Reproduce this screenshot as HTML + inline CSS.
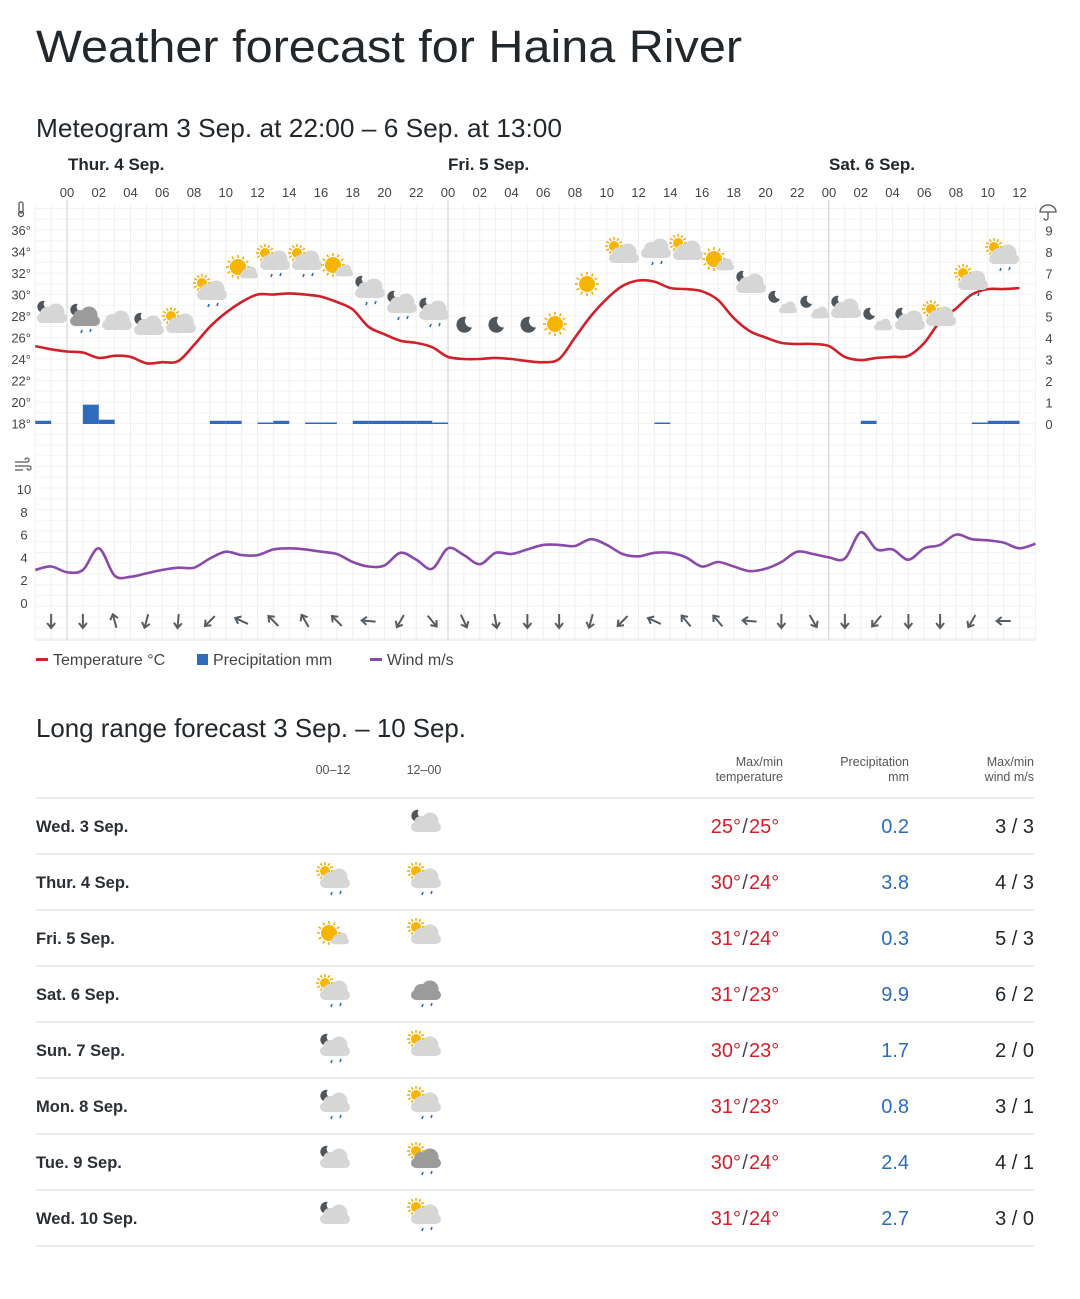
<!DOCTYPE html>
<html><head><meta charset="utf-8"><style>
html,body{margin:0;padding:0;background:#fff;width:1080px;height:1299px;overflow:hidden}
svg{display:block;font-family:"Liberation Sans",sans-serif}
</style></head><body>
<svg id="s" width="1080" height="1299" viewBox="0 0 1080 1299" xmlns="http://www.w3.org/2000/svg">
<text x="36" y="62" font-size="45" fill="#21272b" textLength="706" lengthAdjust="spacingAndGlyphs">Weather forecast for Haina River</text>
<text x="36" y="137" font-size="26" fill="#21272b" textLength="526" lengthAdjust="spacingAndGlyphs">Meteogram 3 Sep. at 22:00 – 6 Sep. at 13:00</text>
<text x="36" y="737" font-size="26" fill="#21272b" textLength="430" lengthAdjust="spacingAndGlyphs">Long range forecast 3 Sep. – 10 Sep.</text>
<g id="g"></g>
</svg>
<script>
const G=document.getElementById('g');
let h='';
const X=i=>35.25+15.875*i;
const TY=t=>230+(36-t)*10.75;
const WY=w=>603-w*11.4;
const PY=p=>424-p*21.5;
for(let i=0;i<=63;i++){const x=X(i);h+=`<line x1="${x}" y1="205" x2="${x}" y2="640" stroke="#efefef" stroke-width="1"/>`;}
for(let y=208.5;y<=640;y+=10.75){h+=`<line x1="35" y1="${y}" x2="1035" y2="${y}" stroke="#f3f3f3" stroke-width="1"/>`;}
[67,448,828.75].forEach(x=>h+=`<line x1="${x}" y1="200" x2="${x}" y2="640" stroke="#cfcfcf" stroke-width="1"/>`);
h+=`<line x1="35" y1="640" x2="1035" y2="640" stroke="#e4e4e4"/>`;
h+=`<text x="68" y="170" font-size="17" font-weight="bold" fill="#21272b">Thur. 4 Sep.</text>`;
h+=`<text x="448" y="170" font-size="17" font-weight="bold" fill="#21272b">Fri. 5 Sep.</text>`;
h+=`<text x="829" y="170" font-size="17" font-weight="bold" fill="#21272b">Sat. 6 Sep.</text>`;
for(let i=2;i<=63;i+=2){const hr=(i-2)%24;h+=`<text x="${X(i)}" y="197" font-size="13" fill="#444" text-anchor="middle">${String(hr).padStart(2,'0')}</text>`;}
for(let t=36;t>=18;t-=2)h+=`<text x="31" y="${TY(t)+5}" font-size="13" fill="#444" text-anchor="end">${t}°</text>`;
for(let p=9;p>=0;p--)h+=`<text x="1049" y="${PY(p)+5}" font-size="13" fill="#444" text-anchor="middle">${p}</text>`;
for(let w=10;w>=0;w-=2)h+=`<text x="24" y="${WY(w)+5}" font-size="13" fill="#444" text-anchor="middle">${w}</text>`;
h+=`<g stroke="#555" fill="none" stroke-width="1.3"><rect x="19" y="202" width="4" height="11" rx="2"/><circle cx="21" cy="214" r="2.5"/></g>`;
h+=`<path d="M1040 212 a8 7 0 0 1 16 0 z M1048 212 v6 a2 2 0 0 1 -4 0" stroke="#555" fill="none" stroke-width="1.3"/>`;
h+=`<g stroke="#555" fill="none" stroke-width="1.2"><path d="M15 462h12a2 2 0 1 0 -2-2M15 466h14a2 2 0 1 1 -2 2M15 470h8"/></g>`;
const P={0:.15,3:.9,4:.2,11:.15,12:.15,14:.07,15:.15,17:.07,18:.07,20:.15,21:.15,22:.15,23:.15,24:.15,25:.07,39:.07,52:.15,59:.07,60:.15,61:.15};
for(const k in P){const i=+k;h+=`<rect x="${X(i)}" y="${PY(P[k])}" width="15.9" height="${424-PY(P[k])}" fill="#2f6bbd"/>`;}
function sm(pts){let d=`M${pts[0][0]},${pts[0][1]}`;for(let i=0;i<pts.length-1;i++){const p0=pts[i-1]||pts[i],p1=pts[i],p2=pts[i+1],p3=pts[i+2]||p2;const c1=[p1[0]+(p2[0]-p0[0])/6,p1[1]+(p2[1]-p0[1])/6],c2=[p2[0]-(p3[0]-p1[0])/6,p2[1]-(p3[1]-p1[1])/6];d+=`C${c1[0].toFixed(1)},${c1[1].toFixed(1)} ${c2[0].toFixed(1)},${c2[1].toFixed(1)} ${p2[0].toFixed(1)},${p2[1].toFixed(1)}`;}return d;}
const T=[25.2,24.9,24.7,24.6,24.1,24.3,24.2,23.6,23.7,23.8,25.3,27.0,28.3,29.3,30.0,30.0,30.1,30.0,29.8,29.3,28.6,27.0,26.3,25.7,25.5,25.1,
24.2,24.0,24.0,24.1,24.0,23.8,23.7,24.0,26.0,28.0,29.6,30.8,31.3,31.2,30.6,30.5,30.3,29.5,27.8,26.6,26.0,25.5,25.4,25.4,
25.2,24.2,23.9,24.1,24.2,24.3,25.5,27.5,28.7,30.0,30.5,30.5,30.6];
const W=[2.9,3.2,2.7,2.9,4.8,2.4,2.3,2.6,2.9,3.1,3.1,3.9,4.5,4.2,4.2,4.7,4.8,4.7,4.5,4.3,3.6,3.2,3.3,4.4,3.8,3.0,
4.8,4.2,3.4,4.4,4.3,4.7,5.1,5.1,5.0,5.6,5.1,4.3,4.1,4.4,4.4,4.0,3.2,3.6,3.2,2.8,3.0,3.6,4.5,4.3,
4.0,3.9,6.2,4.7,4.7,3.8,4.8,5.1,6.0,5.6,5.5,5.3,4.8,5.2];
h+=`<path d="${sm(T.map((t,i)=>[X(i),TY(t)]))}" stroke="#d0202a" stroke-width="2.6" fill="none"/>`;
h+=`<path d="${sm(W.map((w,i)=>[X(i),WY(w)]))}" stroke="#8a4aa8" stroke-width="2.6" fill="none"/>`;
const A=[0,0,165,15,5,45,115,135,150,135,95,30,-40,-25,-10,0,0,15,45,115,140,140,95,0,-30,0,40,0,0,30,90];
A.forEach((a,k)=>{const x=X(1+2*k),y=621;h+=`<g transform="translate(${x} ${y}) rotate(${a})" stroke="#555d63" stroke-width="2" fill="none"><line x1="0" y1="-7" x2="0" y2="6"/><path d="M-4 2 L0 7 L4 2"/></g>`;});
function cloud(x,y,s,c){return `<g transform="translate(${x} ${y}) scale(${s})"><circle cx="-5" cy="-2" r="7" fill="${c}"/><circle cx="4" cy="-4" r="8.5" fill="${c}"/><rect x="-15" y="-3" width="30" height="10" rx="5" fill="${c}"/></g>`;}
function sun(x,y,r){let s=`<g transform="translate(${x} ${y})">`;for(let a=0;a<360;a+=30)s+=`<line x1="0" y1="${-r-1}" x2="0" y2="${-r-4}" stroke="#f5a800" stroke-width="1.5" transform="rotate(${a})"/>`;return s+`<circle r="${r}" fill="#f7b500"/></g>`;}
function moon(x,y,r){return `<path d="M${x+r*0.3} ${y-r} A${r} ${r} 0 1 0 ${x+r} ${y+r*0.3} A${r*0.8} ${r*0.8} 0 0 1 ${x+r*0.3} ${y-r}z" fill="#4f565c"/>`;}
function rain(x,y){return `<g stroke="#2f6bbd" stroke-width="1.6"><line x1="${x-4}" y1="${y+12}" x2="${x-3}" y2="${y+9}"/><line x1="${x+5}" y1="${y+11}" x2="${x+6}" y2="${y+8}"/></g>`;}
function icon(x,y,t){let s='';
 const dark=t.includes('D');
 if(t.includes('m'))s+=moon(x-7,y-8,6);
 if(t.includes('s'))s+=sun(x-8,y-9,5);
 if(t.includes('S'))s+=sun(x-4,y-3,8);
 if(t.includes('M'))s+=moon(x,y,8);
 if(t.includes('c'))s+=cloud(x+2,y+1,1,dark?'#9b9b9b':'#d6d6d6');
 if(t.includes('k'))s+=cloud(x+7,y+4,0.6,'#d6d6d6');
 if(t.includes('r'))s+=rain(x+2,y+3);
 return s;}
const I=[[50,315,'mc'],[83,318,'mcDr'],[115,322,'c'],[147,327,'mc'],[179,325,'sc'],[210,292,'scr'],[242,270,'Sk'],[273,262,'scr'],[305,262,'scr'],[337,268,'Sk'],[368,290,'mcr'],[400,305,'mcr'],[432,312,'mcr'],[464,325,'M'],[496,325,'M'],[528,325,'M'],[559,327,'S'],[591,287,'S'],[622,255,'sc'],[654,250,'cr'],[686,252,'sc'],[718,262,'Sk'],[749,285,'mc'],[781,305,'mk'],[813,310,'mk'],[844,310,'mc'],[876,322,'mk'],[908,322,'mc'],[939,318,'sc'],[971,282,'scr'],[1002,256,'scr']];
I.forEach(a=>h+=icon(...a));
h+=`<rect x="36" y="658" width="12" height="3" fill="#d0202a"/><text x="53" y="665" font-size="16" fill="#444">Temperature °C</text>`;
h+=`<rect x="197" y="654" width="11" height="11" fill="#2f6bbd"/><text x="213" y="665" font-size="16" fill="#444">Precipitation mm</text>`;
h+=`<rect x="370" y="658" width="12" height="3" fill="#8a4aa8"/><text x="387" y="665" font-size="16" fill="#444">Wind m/s</text>`;
h+=`<g font-size="12.5" fill="#555"><text x="333" y="774" text-anchor="middle">00–12</text><text x="424" y="774" text-anchor="middle">12–00</text>
<text x="783" y="766" text-anchor="end">Max/min</text><text x="783" y="781" text-anchor="end">temperature</text>
<text x="909" y="766" text-anchor="end">Precipitation</text><text x="909" y="781" text-anchor="end">mm</text>
<text x="1034" y="766" text-anchor="end">Max/min</text><text x="1034" y="781" text-anchor="end">wind m/s</text></g>`;
const R=[['Wed. 3 Sep.','','mc',25,25,'0.2','3 / 3'],['Thur. 4 Sep.','scr','scr',30,24,'3.8','4 / 3'],['Fri. 5 Sep.','Sk','sc',31,24,'0.3','5 / 3'],['Sat. 6 Sep.','scr','cDr',31,23,'9.9','6 / 2'],['Sun. 7 Sep.','mcr','sc',30,23,'1.7','2 / 0'],['Mon. 8 Sep.','mcr','scr',31,23,'0.8','3 / 1'],['Tue. 9 Sep.','mc','scDr',30,24,'2.4','4 / 1'],['Wed. 10 Sep.','mc','scr',31,24,'2.7','3 / 0']];
h+=`<line x1="36" y1="798" x2="1034" y2="798" stroke="#dfe3e8" stroke-width="1.5"/>`;
R.forEach((r,k)=>{const y=826+56*k;
 h+=`<text x="36" y="${y+6}" font-size="16.5" font-weight="bold" fill="#2a3035">${r[0]}</text>`;
 if(r[1])h+=icon(333,y-2,r[1]);h+=icon(424,y-2,r[2]);
 h+=`<text x="741" y="${y+7}" font-size="20" fill="#d0202a" text-anchor="end">${r[3]}°</text><text x="745" y="${y+7}" font-size="20" fill="#444" text-anchor="middle">/</text><text x="749" y="${y+7}" font-size="20" fill="#d0202a">${r[4]}°</text>`;
 h+=`<text x="909" y="${y+7}" font-size="20" fill="#2f6bbd" text-anchor="end">${r[5]}</text>`;
 h+=`<text x="1034" y="${y+7}" font-size="20" fill="#21272b" text-anchor="end">${r[6]}</text>`;
 h+=`<line x1="36" y1="${y+28}" x2="1034" y2="${y+28}" stroke="#dfe3e8" stroke-width="1.5"/>`;});
G.innerHTML=h;
</script>
</body></html>
